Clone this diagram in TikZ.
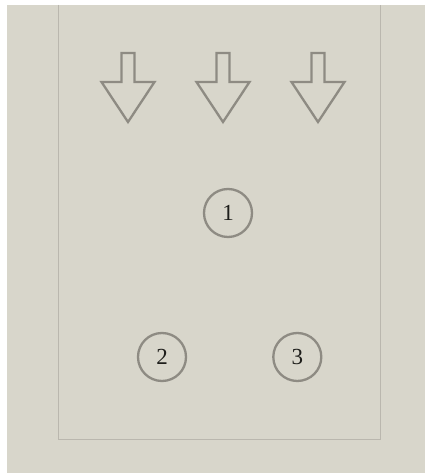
\documentclass[tikz,border=0pt]{standalone}
\usepackage{fontspec}
\setmainfont{Liberation Serif}
\usepackage{tikz}
\usetikzlibrary{positioning}
\definecolor{paper}{HTML}{D8D6CB}
\definecolor{inkgray}{HTML}{8E8B83}
\definecolor{framegray}{HTML}{BAB7AE}
\definecolor{digit}{HTML}{1E1E1B}

\begin{document}
\begin{tikzpicture}[
  x=1pt,y=1pt,
  font=\fontsize{23}{26}\selectfont,
  frame/.style={draw=framegray,line width=1pt},
  blockarrow/.style={draw=inkgray,fill=paper,line width=2.3pt,line join=miter},
  marker/.style={circle,draw=inkgray,line width=2.3pt,minimum size=48pt,
                 inner sep=0pt,text=digit}
]
\fill[white] (0,0) rectangle (425,473);
\fill[paper] (7,0) rectangle (425,468);
\useasboundingbox (0,0) rectangle (425,473);

% open frame
\draw[frame] (58,468) -- (58,33) -- (380,33) -- (380,468);

% three downward block arrows
\foreach \cx in {128,223,318}{
  \draw[blockarrow] (\cx-6.5,420) -- (\cx+6.5,420) -- (\cx+6.5,391)
    -- (\cx+26.5,391) -- (\cx,351) -- (\cx-26.5,391) -- (\cx-6.5,391) -- cycle;
}

% numbered markers
\node[marker] (one) at (228,260) {1};
\node[marker] (two) at (162,116) {2};
\node[marker,right=85pt of two] (three) {3};
\end{tikzpicture}
\end{document}
